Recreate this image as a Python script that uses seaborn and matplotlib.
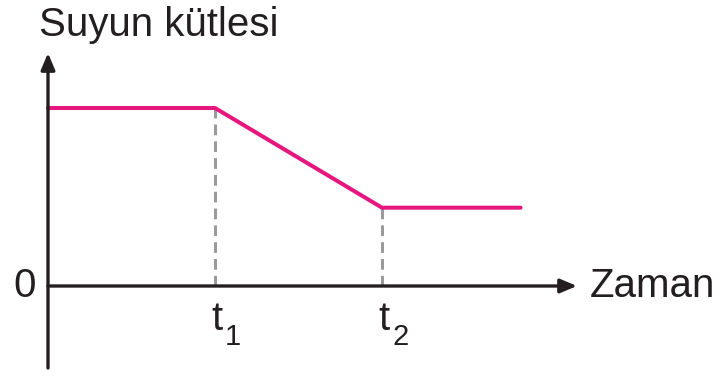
import matplotlib
matplotlib.use('Agg')
from matplotlib import pyplot as plt
import seaborn as sns
import pandas as pd

# time in units of t1, mass in arbitrary units
time = [0, 1, 2, 2.83]
mass = [1, 1, 0.44, 0.44]
tick_times = [1, 2]
tick_subs = ['1', '2']
xlabel = 'Zaman'
ylabel = 'Suyun kütlesi'

sns.set_style('white')
plt.rcParams['font.family'] = ['Liberation Sans', 'DejaVu Sans']

PINK = '#e5177e'
INK = '#231f20'

fig = plt.figure(figsize=(7.21, 3.76), dpi=100)
axe = fig.add_axes([0, 0, 1, 1])
sx = 167.0
sy = 178.0
axe.set_xlim(-48 / sx, (721 - 48) / sx)
axe.set_ylim(-(376 - 286) / sy, 286 / sy)
axe.axis('off')

pd_data = pd.DataFrame({'time': time, 'mass': mass})
sns.lineplot(data=pd_data, x='time', y='mass', color=PINK, lw=2.9,
             ax=axe, zorder=4)

# dashed drop lines at the break points
for t in tick_times:
    m = pd_data.loc[pd_data['time'] == t, 'mass'].iloc[0]
    axe.plot([t, t], [0, m], color='#9a9a9c', lw=2.2, ls=(0, (3.5, 2)), zorder=3)

x_end = 529 / sx
y_top = 233 / sy
y_bot = -82 / sy
arrow = dict(arrowstyle='-|>,head_length=1.0,head_width=0.42', color=INK,
             lw=2.4, shrinkA=0, shrinkB=0)
axe.annotate('', xy=(x_end, 0), xytext=(0, 0), arrowprops=arrow, zorder=5)
axe.annotate('', xy=(0, y_top), xytext=(0, y_bot), arrowprops=arrow, zorder=5)

axe.text(x_end + 13 / sx, 0, xlabel, fontsize=29, color=INK,
         ha='left', va='center')
axe.text(-9 / sx, (286 - 36) / sy, ylabel, fontsize=29, color=INK,
         ha='left', va='baseline')
axe.text(-23 / sx, 0, '0', fontsize=29, color=INK, ha='center', va='center')
for t, sub in zip(tick_times, tick_subs):
    axe.text(t - 4 / sx, -(330 - 286) / sy, 't', fontsize=29, color=INK,
             ha='left', va='baseline')
    axe.text(t + 10 / sx, -(345 - 286) / sy, sub, fontsize=21, color=INK,
             ha='left', va='baseline')

plt.savefig('out.png', dpi=100)
